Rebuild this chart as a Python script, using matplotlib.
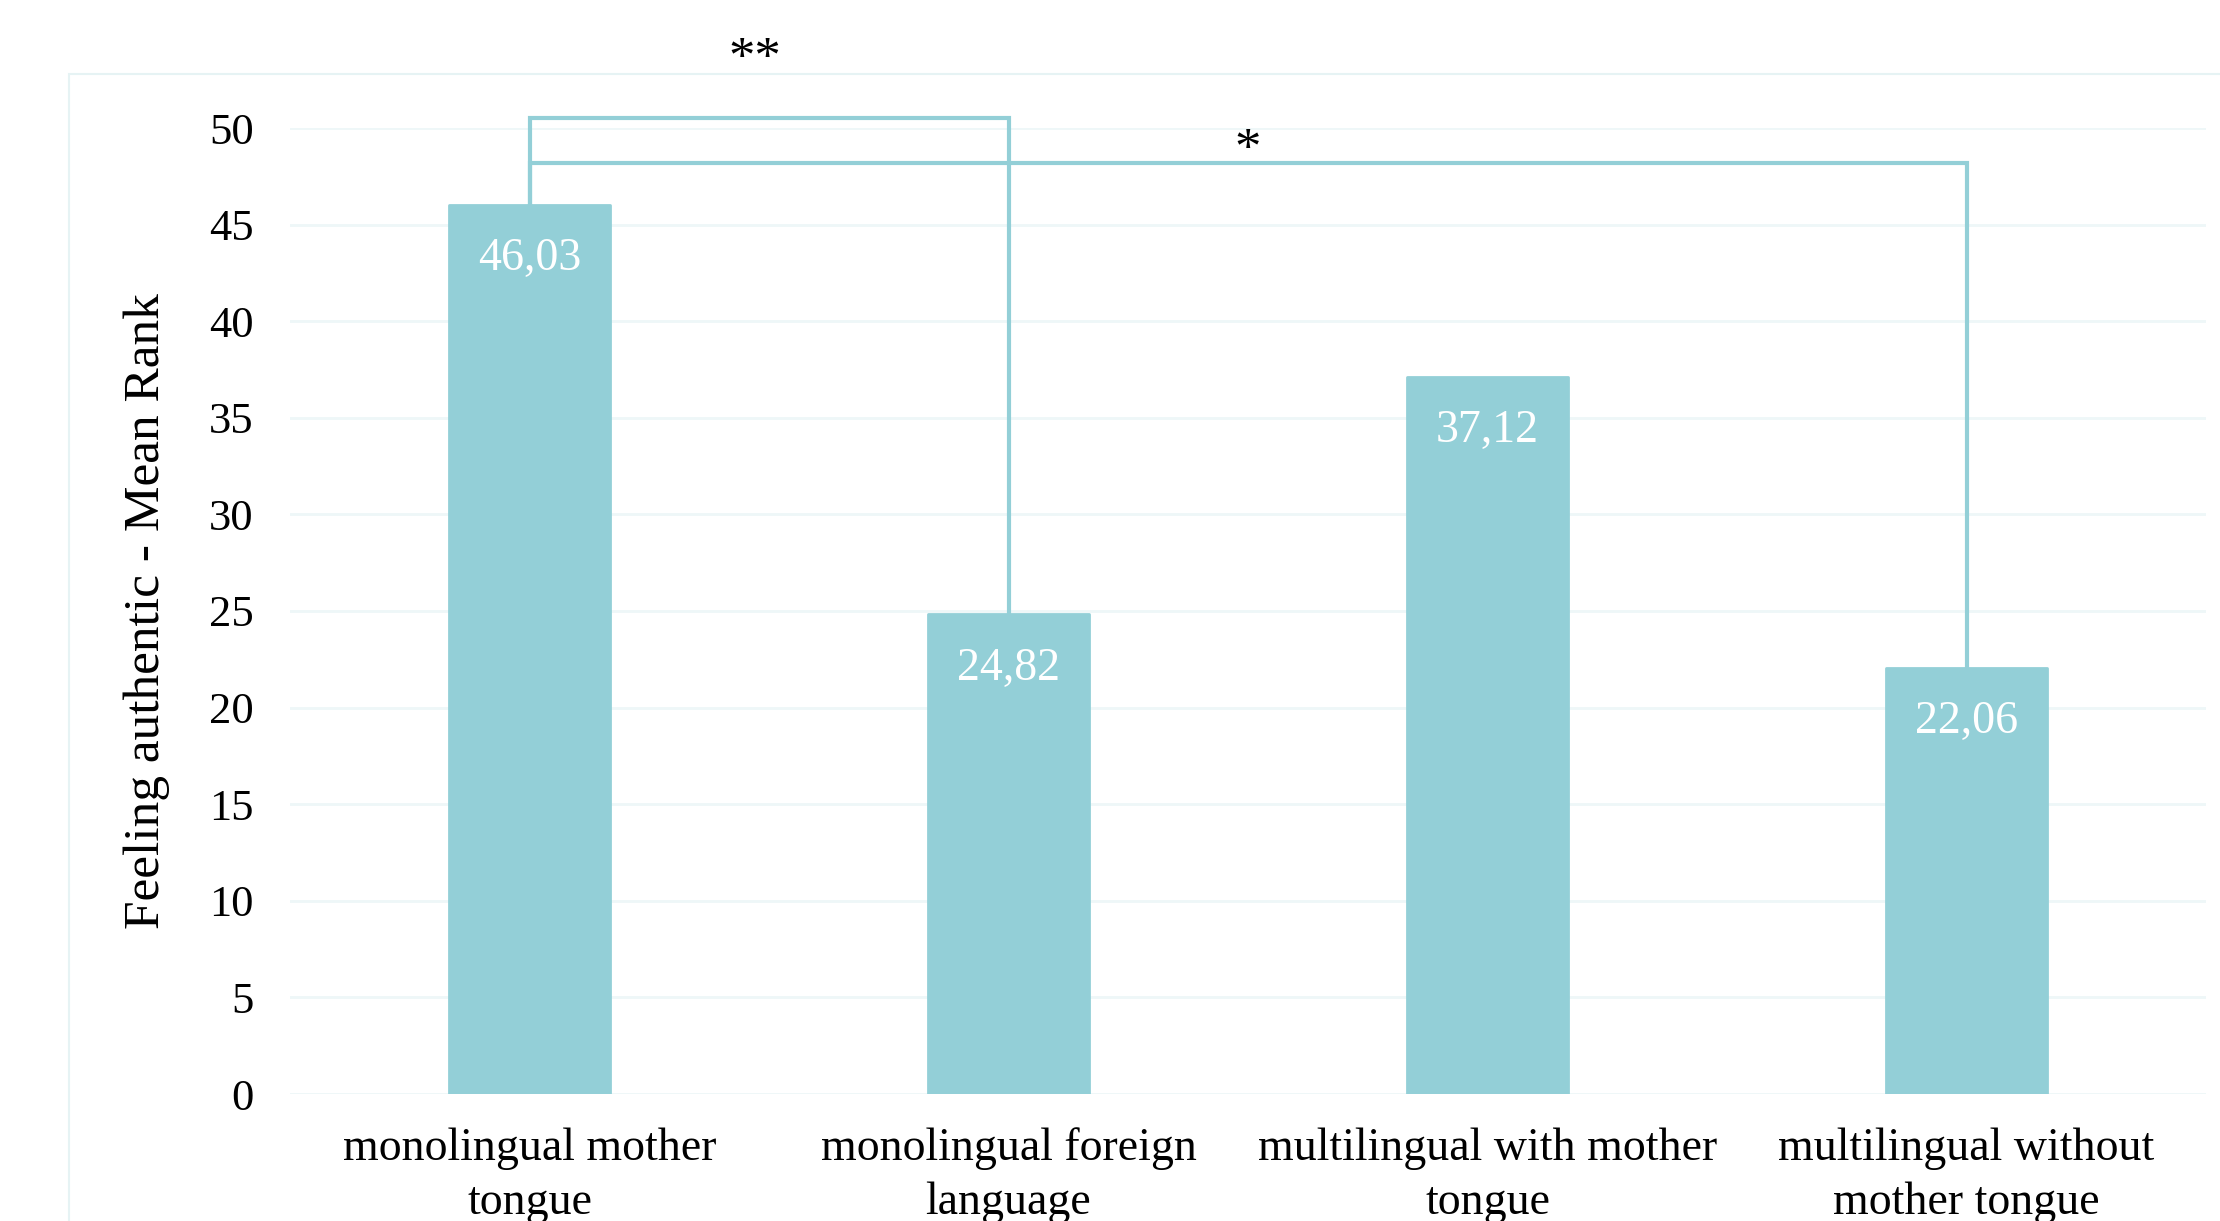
import matplotlib
matplotlib.use("Agg")
import matplotlib.pyplot as plt
from matplotlib.patches import Rectangle

categories = ["monolingual mother\ntongue", "monolingual foreign\nlanguage",
              "multilingual with mother\ntongue", "multilingual without\nmother tongue"]
values = [46.03, 24.82, 37.12, 22.06]
value_labels = ["46,03", "24,82", "37,12", "22,06"]
yticks = [0, 5, 10, 15, 20, 25, 30, 35, 40, 45, 50]
# significance brackets: (from index, to index, bracket height, stars, star height)
brackets = [(0, 1, 50.5, "**", 53.5), (0, 3, 48.2, "*", 48.8)]

BAR = "#93CFD7"
GRID = "#EEF7F8"
FONT = "Liberation Serif"

W, H = 2220, 1221
fig = plt.figure(figsize=(W / 100, H / 100), dpi=100)
fig.patch.set_facecolor("white")

# outer chart-area frame (extends past figure edge, as in reference)
fig.patches.append(Rectangle((69 / W, -0.2), 1.2, 1 - 74 / H + 0.2,
                             transform=fig.transFigure, fill=False,
                             edgecolor="#E6F3F4", linewidth=1.5))

ax = fig.add_axes([290 / W, (H - 1094) / H, (2206 - 290) / W, (1094 - 128) / H])
ax.set_xlim(-0.5, len(values) - 0.5)
ax.set_ylim(0, 50)

ax.bar(range(len(values)), values, width=0.338, color=BAR, edgecolor=BAR,
       linewidth=2, joinstyle="round", zorder=3)

for i, (v, lab) in enumerate(zip(values, value_labels)):
    ax.text(i, v - 2.8, lab, ha="center", va="center", color="white",
            fontsize=33, family=FONT, zorder=4)

for (a, b, h, stars, sh) in brackets:
    ax.plot([a, a, b, b], [values[a], h, h, values[b]], color=BAR,
            linewidth=3, clip_on=False, zorder=5, solid_joinstyle="miter")
    ax.text((a + b) / 2 - (0.03 if b - a == 1 else 0.0), sh, stars,
            ha="center", va="center", fontsize=38, family=FONT,
            color="black", clip_on=False)

ax.set_yticks(yticks)
ax.set_xticks(range(len(values)))
ax.set_xticklabels(categories, family=FONT, fontsize=33, linespacing=1.35)
for t in ax.get_yticklabels():
    t.set_family(FONT)
    t.set_fontsize(32)
ax.tick_params(axis="both", length=0, colors="black")
ax.tick_params(axis="y", pad=26)
ax.tick_params(axis="x", pad=24)
ax.grid(axis="y", color=GRID, linewidth=2, zorder=0)
ax.set_axisbelow(True)
for s in ax.spines.values():
    s.set_visible(False)

ax.set_ylabel("Feeling authentic - Mean Rank", family=FONT, fontsize=37, labelpad=28)

fig.savefig("out.png", dpi=100, facecolor="white")
